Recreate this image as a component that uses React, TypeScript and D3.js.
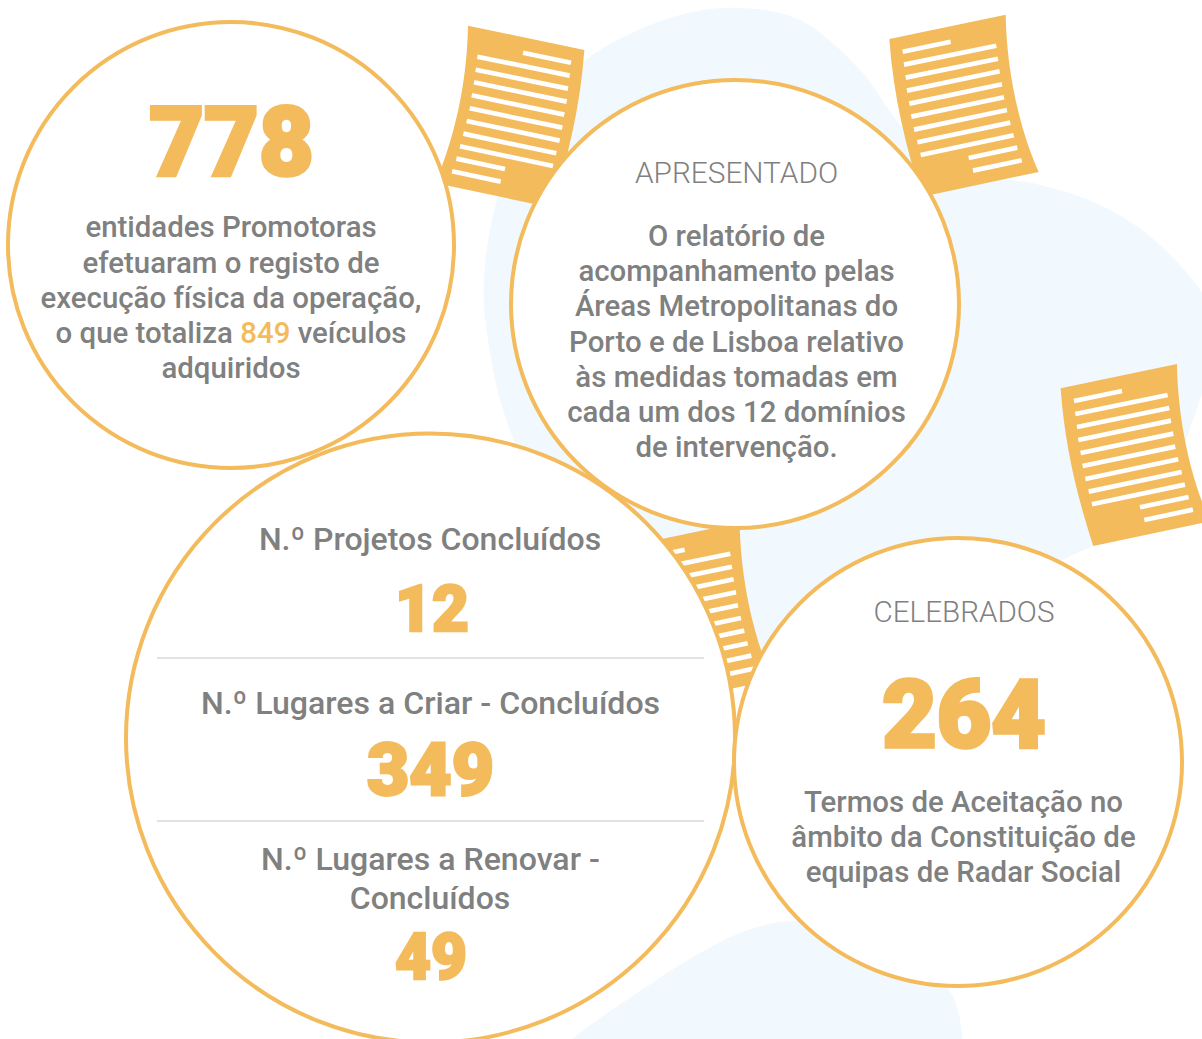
import { useEffect, useRef } from 'react';
import * as d3 from 'd3';

const ORANGE = '#f3bb5b';
const GREY = '#7f8080';
const BLUE = '#f1f8fe';

const topLeftValue = '778';
const topLeftLines = ['entidades Promotoras', 'efetuaram o registo de', 'execução física da operação,'];
const topLeftMixed = ['o que totaliza ', '849', ' veículos'];
const topLeftLast = 'adquiridos';

const presentedTitle = 'APRESENTADO';
const presentedLines = [
  'O relatório de',
  'acompanhamento pelas',
  'Áreas Metropolitanas do',
  'Porto e de Lisboa relativo',
  'às medidas tomadas em',
  'cada um dos 12 domínios',
  'de intervenção.',
];

const projectLabels = ['N.º Projetos Concluídos', 'N.º Lugares a Criar - Concluídos', 'N.º Lugares a Renovar -', 'Concluídos'];
const projectValues = ['12', '349', '49'];

const signedTitle = 'CELEBRADOS';
const signedValue = '264';
const signedLines = ['Termos de Aceitação no', 'âmbito da Constituição de', 'equipas de Radar Social'];

// blob outlines behind the circles
const mainBlob: [number, number][] = [
  [484, 280], [500, 190], [545, 100], [600, 50], [680, 15], [740, 8], [800, 20], [860, 70], [905, 130], [960, 170],
  [1040, 185], [1100, 205], [1160, 245], [1215, 320], [1202, 393], [1170, 470], [1120, 530], [1063, 560], [950, 620],
  [800, 670], [730, 680], [600, 600], [510, 430], [488, 340],
];
const lowerBlob: [number, number][] = [
  [572, 1039], [637, 993], [693, 957], [743, 932], [793, 921], [880, 935], [948, 988], [962, 1039], [955, 1075], [700, 1075], [550, 1060],
];

// sheet drawing, in units of a third of a pixel
const sheetOutline = 'M28,117 L377,44 C380,220 420,390 476,516 L126,590 C80,450 40,290 28,117 Z';
const sheetRows: [number, number, number, number][] = [
  [68, 155, 212, 125], [72, 194, 349, 137], [77, 233, 354, 176], [81, 272, 359, 214], [88, 311, 366, 253],
  [94, 350, 372, 292], [102, 389, 381, 330], [112, 427, 391, 368], [122, 465, 401, 406], [266, 474, 412, 443],
  [279, 512, 425, 481],
];

export default function App() {
  const ref = useRef<SVGSVGElement>(null);

  useEffect(() => {
    const svg = d3.select(ref.current);
    svg.selectAll('*').remove();

    const blobLine = d3.line().curve(d3.curveCatmullRomClosed.alpha(0.5));
    svg.append('path').attr('d', blobLine(mainBlob)).attr('fill', BLUE);
    svg.append('path').attr('d', blobLine(lowerBlob)).attr('fill', BLUE);

    const sheet = (transform: string) => {
      const g = svg.append('g').attr('transform', transform);
      g.append('path').attr('d', sheetOutline).attr('fill', ORANGE);
      g.selectAll('line')
        .data(sheetRows)
        .join('line')
        .attr('x1', (d) => d[0])
        .attr('y1', (d) => d[1])
        .attr('x2', (d) => d[2])
        .attr('y2', (d) => d[3])
        .attr('stroke', '#fff')
        .attr('stroke-width', 14);
    };
    sheet('translate(593.67,11) scale(-0.3333,0.3333)');
    sheet('translate(880,0) scale(0.3333)');
    sheet('translate(1051.3,349.3) scale(0.3333)');
    sheet('translate(614,508) scale(0.3333)');

    const circle = (cx: number, cy: number, r: number) =>
      svg.append('circle').attr('cx', cx).attr('cy', cy).attr('r', r).attr('fill', '#fff').attr('stroke', ORANGE).attr('stroke-width', 4);

    const text = (x: number, y: number, s: string, size: number, weight: number, fill = GREY) =>
      svg
        .append('text')
        .attr('x', x)
        .attr('y', y)
        .attr('text-anchor', 'middle')
        .attr('font-family', 'Roboto')
        .attr('font-size', size)
        .attr('font-weight', weight)
        .attr('fill', fill)
        .text(s);

    // big numbers: the installed weight is lighter than the reference, so thicken it
    const bigNumber = (x: number, y: number, s: string, size: number, sx: number, thick: number) =>
      text(0, 0, s, size, 900, ORANGE)
        .attr('transform', `translate(${x},${y}) scale(${sx},1)`)
        .attr('stroke', ORANGE)
        .attr('stroke-width', thick)
        .attr('stroke-linejoin', 'miter');

    // top left circle
    circle(231, 245, 223);
    bigNumber(231.5, 175, topLeftValue, 96, 0.985, 3.5);
    topLeftLines.forEach((s, i) => text(231, 237 + i * 35.6, s, 29.4, 500));
    const mixed = text(231, 343, '', 29.4, 500);
    topLeftMixed.forEach((s, i) => mixed.append('tspan').attr('fill', i === 1 ? ORANGE : GREY).text(s));
    text(231, 378, topLeftLast, 29.4, 500);

    // bottom circle goes first so the top right circle's line stays on top
    circle(430.5, 738, 304.5);
    text(430, 550, projectLabels[0], 32, 500);
    bigNumber(432, 630.5, projectValues[0], 65, 0.98, 2.5);
    text(430.5, 714, projectLabels[1], 32.1, 500);
    bigNumber(430.5, 794.5, projectValues[1], 73, 1.0, 2.8);
    text(430.5, 870, projectLabels[2], 32.1, 500);
    text(430, 909, projectLabels[3], 32, 500);
    bigNumber(431, 979, projectValues[2], 64, 0.97, 2.5);
    [658, 821].forEach((y) => {
      svg.append('line').attr('x1', 157).attr('x2', 704).attr('y1', y).attr('y2', y).attr('stroke', '#d9d9d9').attr('stroke-width', 1.5);
    });

    // top right circle
    circle(735, 304, 224);
    text(736.5, 183, presentedTitle, 29.8, 300);
    presentedLines.forEach((s, i) => text(736.5, 246.2 + i * 35.1, s, 29.4, 500));

    // bottom right circle
    circle(958, 762, 224);
    text(964, 622, signedTitle, 29.6, 300);
    bigNumber(964, 747, signedValue, 94, 1.0, 3.5);
    signedLines.forEach((s, i) => text(963.5, 812 + i * 35, s, 29.4, 500));
  }, []);

  return <svg ref={ref} width={1202} height={1039} style={{ position: 'absolute', left: 0, top: 0 }} />;
}
